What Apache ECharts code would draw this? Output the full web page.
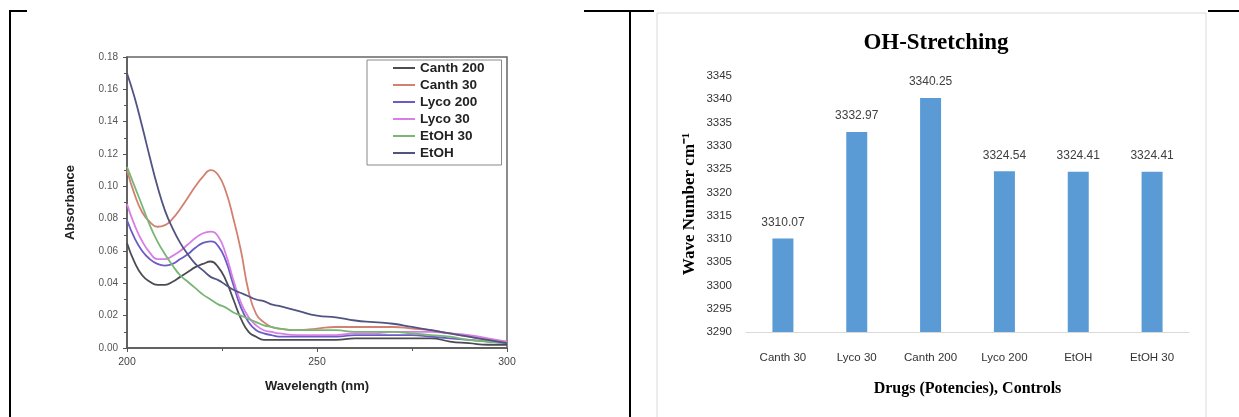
<!DOCTYPE html>
<html>
<head>
<meta charset="utf-8">
<script src="https://cdn.jsdelivr.net/npm/echarts@6/dist/echarts.min.js"></script>
<style>
  html, body { margin: 0; padding: 0; background: #fff; }
  #main { width: 1239px; height: 417px; }
</style>
</head>
<body>
<div id="main"></div>
<script>
// left panel: UV spectra
var wavelengths = [200,202,204,206,208,210,212,214,216,218,220,222,224,226,228,230,232,234,236,238,240,245,250,255,260,265,270,275,280,285,290,295,300]
var canth200 = [0.065,0.053,0.045,0.041,0.039,0.039,0.041,0.044,0.047,0.050,0.052,0.0535,0.050,0.042,0.030,0.018,0.010,0.007,0.005,0.005,0.005,0.005,0.005,0.005,0.006,0.006,0.006,0.006,0.006,0.004,0.003,0.002,0.002]
var canth30 = [0.110,0.095,0.084,0.078,0.075,0.076,0.080,0.086,0.093,0.100,0.106,0.110,0.107,0.097,0.080,0.060,0.035,0.021,0.016,0.013,0.012,0.011,0.012,0.013,0.013,0.013,0.013,0.012,0.011,0.009,0.007,0.005,0.004]
var lyco200 = [0.079,0.068,0.060,0.055,0.052,0.051,0.052,0.055,0.058,0.062,0.065,0.066,0.063,0.054,0.039,0.025,0.016,0.011,0.009,0.008,0.007,0.007,0.007,0.007,0.008,0.008,0.008,0.008,0.007,0.006,0.005,0.004,0.003]
var lyco30 = [0.089,0.076,0.066,0.059,0.055,0.055,0.057,0.060,0.064,0.068,0.071,0.072,0.069,0.058,0.042,0.028,0.019,0.014,0.011,0.010,0.009,0.008,0.008,0.008,0.009,0.009,0.010,0.010,0.010,0.009,0.008,0.006,0.004]
var etoh30 = [0.112,0.100,0.088,0.076,0.066,0.058,0.051,0.045,0.041,0.037,0.033,0.030,0.027,0.025,0.022,0.020,0.018,0.016,0.014,0.013,0.012,0.011,0.011,0.011,0.010,0.010,0.010,0.009,0.008,0.007,0.005,0.004,0.003]
var etoh = [0.170,0.155,0.137,0.118,0.100,0.085,0.074,0.065,0.058,0.052,0.048,0.044,0.042,0.039,0.036,0.034,0.032,0.030,0.029,0.027,0.026,0.023,0.020,0.019,0.017,0.016,0.015,0.013,0.011,0.009,0.007,0.005,0.003]

var lineNames = ['Canth 200','Canth 30','Lyco 200','Lyco 30','EtOH 30','EtOH']
var lineValues = [canth200,canth30,lyco200,lyco30,etoh30,etoh]
var lineColors = ['#4b4b52','#d2806f','#6a5cc4','#d77fe4','#79b676','#4f5483']

// right panel: OH stretching
var drugs = ['Canth 30','Lyco 30','Canth 200','Lyco 200','EtOH','EtOH 30']
var waveNumbers = [3310.07,3332.97,3340.25,3324.54,3324.41,3324.41]

function pairs(xs, ys){
	var out = []
	for(var i=0;i<xs.length;i++){
		out.push([xs[i],ys[i]])
	}
	return out
}

var chart = echarts.init(document.getElementById('main'))

var series = []
for(var i=0;i<lineNames.length;i++){
	series.push({
		name: lineNames[i],
		type: 'line',
		xAxisIndex: 0,
		yAxisIndex: 0,
		smooth: 0.5,
		showSymbol: false,
		symbol: 'none',
		lineStyle: { width: 1.8, color: lineColors[i] },
		itemStyle: { color: lineColors[i] },
		data: pairs(wavelengths, lineValues[i])
	})
}
series.push({
	name: 'OH-Stretching',
	type: 'bar',
	xAxisIndex: 1,
	yAxisIndex: 1,
	barWidth: 21,
	itemStyle: { color: '#5b9bd5' },
	label: {
		show: true,
		position: 'top',
		distance: 10,
		fontFamily: 'Liberation Sans, sans-serif',
		fontSize: 12,
		color: '#404040',
		formatter: function(p){ return p.value.toFixed(2) }
	},
	data: waveNumbers
})

var option = {
	animation: false,
	backgroundColor: '#fff',
	title: {
		text: 'OH-Stretching',
		left: 931,
		textAlign: 'center',
		top: 27,
		textStyle: { fontFamily: 'Liberation Serif, serif', fontWeight: 'bold', fontSize: 23, color: '#000' }
	},
	legend: {
		data: lineNames,
		orient: 'vertical',
		left: 367,
		top: 60,
		padding: [1, 17, 5, 26],
		itemGap: 3,
		itemWidth: 22,
		itemHeight: 2,
		icon: 'rect',
		borderColor: '#888',
		borderWidth: 1,
		textStyle: { fontFamily: 'Liberation Sans, Arial, sans-serif', fontWeight: 'bold', fontSize: 13.5, lineHeight: 14, color: '#222' }
	},
	grid: [
		{ left: 127, top: 57, width: 380, height: 291, show: true, borderColor: '#666', borderWidth: 1.5 },
		{ left: 746, top: 76, width: 443, height: 256 }
	],
	xAxis: [
		{
			gridIndex: 0,
			type: 'value',
			min: 200, max: 300, interval: 50,
			name: 'Wavelength (nm)',
			nameLocation: 'middle',
			nameGap: 32,
			nameTextStyle: { fontFamily: 'Liberation Sans, Arial, sans-serif', fontWeight: 'bold', fontSize: 13, color: '#222' },
			axisLine: { lineStyle: { color: '#555', width: 1.5 } },
			axisTick: { show: true, inside: false, length: 4, lineStyle: { color: '#555' } },
			minorTick: { show: true, splitNumber: 2, length: 3, lineStyle: { color: '#555' } },
			splitLine: { show: false },
			axisLabel: { margin: 9, fontFamily: 'Liberation Sans, Arial, sans-serif', fontSize: 10.5, color: '#444' }
		},
		{
			gridIndex: 1,
			type: 'category',
			data: drugs,
			name: 'Drugs (Potencies), Controls',
			nameLocation: 'middle',
			nameGap: 49,
			nameTextStyle: { fontFamily: 'Liberation Serif, serif', fontWeight: 'bold', fontSize: 16, color: '#000' },
			axisLine: { lineStyle: { color: '#d9d9d9', width: 1 } },
			axisTick: { show: false },
			axisLabel: { margin: 20, fontFamily: 'Liberation Sans, sans-serif', fontSize: 11.5, color: '#333' }
		}
	],
	yAxis: [
		{
			gridIndex: 0,
			type: 'value',
			min: 0, max: 0.18, interval: 0.02,
			name: 'Absorbance',
			nameLocation: 'middle',
			nameGap: 50,
			nameTextStyle: { fontFamily: 'Liberation Sans, Arial, sans-serif', fontWeight: 'bold', fontSize: 13, color: '#222' },
			axisLine: { show: true, lineStyle: { color: '#555', width: 1.5 } },
			axisTick: { show: true, inside: false, length: 4, lineStyle: { color: '#555' } },
			minorTick: { show: true, splitNumber: 2, length: 3, lineStyle: { color: '#555' } },
			splitLine: { show: false },
			axisLabel: { margin: 9, fontFamily: 'Liberation Sans, Arial, sans-serif', fontSize: 10, color: '#555',
				formatter: function(v){ return v.toFixed(2) } }
		},
		{
			gridIndex: 1,
			type: 'value',
			min: 3290, max: 3345, interval: 5,
			name: 'Wave Number cm\u207B\u00B9',
			nameLocation: 'middle',
			nameGap: 48,
			nameTextStyle: { fontFamily: 'Liberation Serif, serif', fontWeight: 'bold', fontSize: 17, color: '#000' },
			axisLine: { show: false },
			axisTick: { show: false },
			splitLine: { show: false },
			axisLabel: { margin: 14, fontFamily: 'Liberation Sans, sans-serif', fontSize: 11.5, color: '#333',
				formatter: function(v){ return String(v) } }
		}
	],
	graphic: [
		// table frame lines
		{ type: 'line', shape: { x1: 9, y1: 11, x2: 27, y2: 11 }, style: { stroke: '#000', lineWidth: 2 } },
		{ type: 'line', shape: { x1: 10, y1: 11, x2: 10, y2: 417 }, style: { stroke: '#000', lineWidth: 2 } },
		{ type: 'line', shape: { x1: 584, y1: 11, x2: 654, y2: 11 }, style: { stroke: '#000', lineWidth: 2 } },
		{ type: 'line', shape: { x1: 630, y1: 11, x2: 630, y2: 417 }, style: { stroke: '#000', lineWidth: 2 } },
		{ type: 'line', shape: { x1: 1208, y1: 11, x2: 1239, y2: 11 }, style: { stroke: '#000', lineWidth: 2 } },
		// chart area border on the right panel
		{ type: 'rect', shape: { x: 657, y: 13, width: 549, height: 420 }, style: { fill: 'none', stroke: '#d9d9d9', lineWidth: 1 }, z: -1 }
	],
	series: series
}

chart.setOption(option)
</script>
</body>
</html>
